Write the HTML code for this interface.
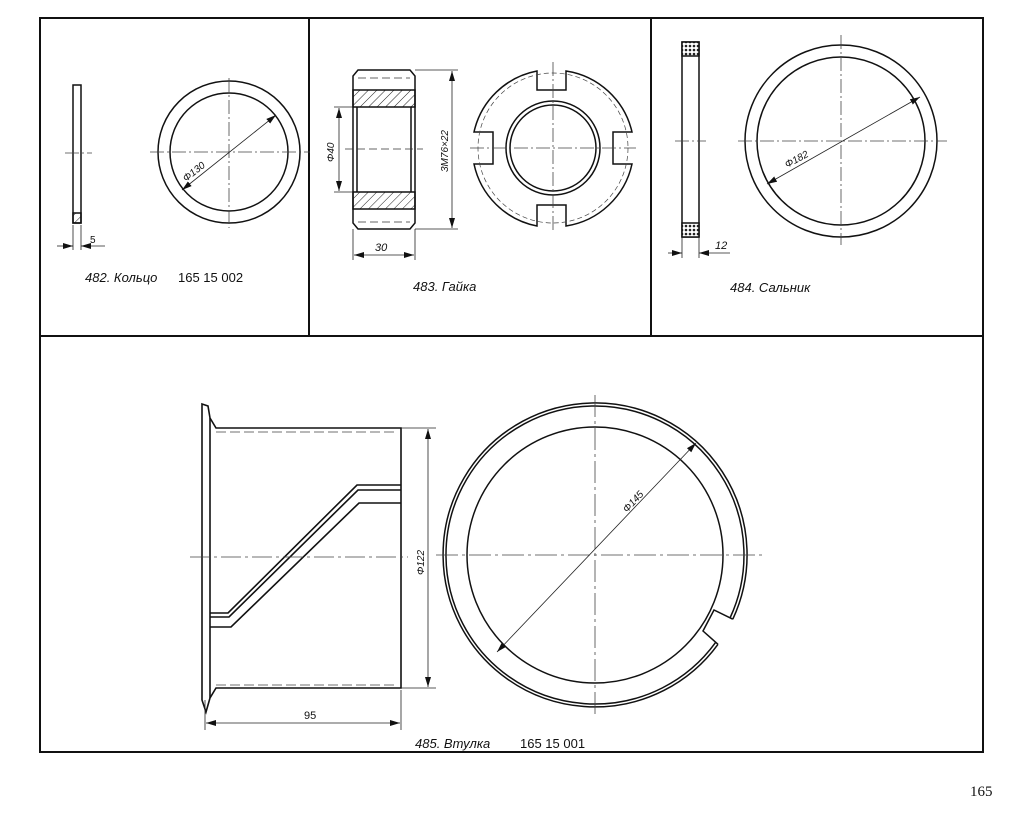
<!DOCTYPE html>
<html><head><meta charset="utf-8"><style>
html,body{margin:0;padding:0;background:#fff;}
svg{display:block}
text{font-family:"Liberation Sans","DejaVu Sans",sans-serif;fill:#111}
.it{font-style:italic}
</style></head><body>
<svg width="1024" height="829" viewBox="0 0 1024 829" xmlns="http://www.w3.org/2000/svg">
<defs>
<pattern id="h" width="6" height="6" patternUnits="userSpaceOnUse" patternTransform="rotate(45)">
<line x1="0" y1="0" x2="0" y2="6" stroke="#222" stroke-width="1"/></pattern>
<pattern id="x" width="4" height="4" patternUnits="userSpaceOnUse">
<rect width="4" height="4" fill="#fff"/><circle cx="2" cy="2" r="1.3" fill="#222"/></pattern>
<marker id="a" markerWidth="10" markerHeight="6" refX="10" refY="3" orient="auto-start-reverse" markerUnits="userSpaceOnUse"><path d="M0,0 L10,3 L0,6z" fill="#111"/></marker>
</defs>
<g fill="none" stroke="#111" stroke-width="2">
<rect x="40" y="18" width="943" height="734"/>
<line x1="40" y1="336" x2="983" y2="336"/>
<line x1="309" y1="18" x2="309" y2="336"/>
<line x1="651" y1="18" x2="651" y2="336"/>
</g>
<!-- Panel 482 -->
<g fill="none" stroke="#111" stroke-width="1.5">
<rect x="73" y="85" width="8" height="138"/>
<rect x="73" y="213" width="8" height="10" fill="url(#h)"/>
<circle cx="229" cy="152" r="71"/>
<circle cx="229" cy="152" r="59"/>
</g>
<g stroke="#444" stroke-width="0.8" stroke-dasharray="14,3,2,3" fill="none">
<line x1="150" y1="152" x2="310" y2="152"/><line x1="229" y1="78" x2="229" y2="228"/>
<line x1="65" y1="153" x2="92" y2="153"/>
</g>
<line x1="182" y1="190" x2="276" y2="115" stroke="#222" stroke-width="0.8" marker-start="url(#a)" marker-end="url(#a)"/>
<text x="0" y="0" font-size="10" class="it" transform="translate(186,182) rotate(-38)">Φ130</text>
<g stroke="#222" stroke-width="0.8"><line x1="73" y1="225" x2="73" y2="250"/><line x1="81" y1="225" x2="81" y2="250"/>
<line x1="57" y1="246" x2="73" y2="246" marker-end="url(#a)"/><line x1="105" y1="246" x2="81" y2="246" marker-end="url(#a)"/></g>
<text x="90" y="243" font-size="10">5</text>
<text x="85" y="282" font-size="13" class="it">482. Кольцо</text>
<text x="178" y="282" font-size="13">165 15 002</text>
<!-- Panel 483 -->
<g fill="none" stroke="#111" stroke-width="1.5">
<path d="M358,70 L410,70 L415,76 L415,223 L410,229 L358,229 L353,223 L353,76z"/>
<rect x="353" y="90" width="62" height="17" fill="url(#h)"/>
<rect x="353" y="192" width="62" height="17" fill="url(#h)"/>
<line x1="357" y1="107" x2="357" y2="192"/><line x1="411" y1="107" x2="411" y2="192"/>
</g>
<g stroke="#333" stroke-width="0.8" stroke-dasharray="8,4"><line x1="358" y1="78" x2="410" y2="78"/><line x1="358" y1="222" x2="410" y2="222"/>
<line x1="345" y1="149" x2="423" y2="149"/></g>
<g stroke="#222" stroke-width="0.8"><line x1="334" y1="107" x2="353" y2="107"/><line x1="334" y1="192" x2="353" y2="192"/>
<line x1="339" y1="150" x2="339" y2="108" marker-end="url(#a)"/><line x1="339" y1="150" x2="339" y2="191" marker-end="url(#a)"/>
<line x1="415" y1="70" x2="458" y2="70"/><line x1="415" y1="229" x2="458" y2="229"/>
<line x1="452" y1="150" x2="452" y2="71" marker-end="url(#a)"/><line x1="452" y1="150" x2="452" y2="228" marker-end="url(#a)"/>
<line x1="353" y1="229" x2="353" y2="260"/><line x1="415" y1="229" x2="415" y2="260"/>
<line x1="384" y1="255" x2="354" y2="255" marker-end="url(#a)"/><line x1="384" y1="255" x2="414" y2="255" marker-end="url(#a)"/></g>
<text font-size="10" class="it" transform="translate(334,162) rotate(-90)">Φ40</text>
<text font-size="10" class="it" transform="translate(448,172) rotate(-90)">3М76×22</text>
<text x="375" y="251" font-size="11" class="it">30</text>
<g fill="none" stroke="#111" stroke-width="1.5">
<path d="M537,71 L537,90 L566,90 L566,71 A80,80 0 0 1 632,132 L613,132 L613,164 L632,164 A80,80 0 0 1 566,226 L566,205 L537,205 L537,226 A80,80 0 0 1 474,164 L493,164 L493,132 L474,132 A80,80 0 0 1 537,71 Z"/>
<circle cx="553" cy="148" r="47"/><circle cx="553" cy="148" r="43"/>
</g>
<circle cx="553" cy="148" r="75" fill="none" stroke="#444" stroke-width="0.7" stroke-dasharray="5,3"/>
<g stroke="#444" stroke-width="0.8" stroke-dasharray="14,3,2,3"><line x1="470" y1="148" x2="636" y2="148"/><line x1="553" y1="62" x2="553" y2="232"/></g>
<text x="413" y="291" font-size="13" class="it">483. Гайка</text>
<!-- Panel 484 -->
<g fill="none" stroke="#111" stroke-width="1.5">
<rect x="682" y="42" width="17" height="195"/>
<rect x="682" y="42" width="17" height="14" fill="url(#x)"/>
<rect x="682" y="223" width="17" height="14" fill="url(#x)"/>
<circle cx="841" cy="141" r="96"/><circle cx="841" cy="141" r="84"/>
</g>
<g stroke="#444" stroke-width="0.8" stroke-dasharray="14,3,2,3"><line x1="738" y1="141" x2="947" y2="141"/><line x1="841" y1="35" x2="841" y2="245"/>
<line x1="675" y1="141" x2="706" y2="141"/></g>
<line x1="767" y1="184" x2="920" y2="97" stroke="#222" stroke-width="0.8" marker-start="url(#a)" marker-end="url(#a)"/>
<text font-size="10" class="it" transform="translate(787,168) rotate(-28)">Φ182</text>
<g stroke="#222" stroke-width="0.8"><line x1="682" y1="237" x2="682" y2="258"/><line x1="699" y1="237" x2="699" y2="258"/>
<line x1="668" y1="253" x2="682" y2="253" marker-end="url(#a)"/><line x1="730" y1="253" x2="699" y2="253" marker-end="url(#a)"/></g>
<text x="715" y="249" font-size="11" class="it">12</text>
<text x="730" y="292" font-size="13" class="it">484. Сальник</text>
<!-- Panel 485 left -->
<g fill="none" stroke="#111" stroke-width="1.6">
<path d="M202,404 L208,406 L210,418 L216,428 L401,428 L401,688 L216,688 L210,698 L206,712 L202,700 Z"/>
<line x1="210" y1="418" x2="210" y2="698"/>
<path d="M210,613 L228,613 L357,485 L401,485"/>
<path d="M210,617 L229,617 L358,490 L401,490"/>
<path d="M210,627 L231,627 L359,503 L401,503"/>
</g>
<g stroke="#444" stroke-width="0.8" stroke-dasharray="10,4"><line x1="216" y1="432" x2="398" y2="432"/><line x1="216" y1="685" x2="398" y2="685"/></g>
<g stroke="#444" stroke-width="0.8" stroke-dasharray="20,4,3,4"><line x1="190" y1="557" x2="408" y2="557"/></g>
<g stroke="#222" stroke-width="0.8"><line x1="401" y1="428" x2="436" y2="428"/><line x1="401" y1="688" x2="436" y2="688"/>
<line x1="428" y1="560" x2="428" y2="429" marker-end="url(#a)"/><line x1="428" y1="560" x2="428" y2="687" marker-end="url(#a)"/>
<line x1="205" y1="700" x2="205" y2="730"/><line x1="401" y1="690" x2="401" y2="730"/>
<line x1="300" y1="723" x2="206" y2="723" marker-end="url(#a)"/><line x1="300" y1="723" x2="400" y2="723" marker-end="url(#a)"/></g>
<text font-size="10" class="it" transform="translate(424,575) rotate(-90)">Φ122</text>
<text x="304" y="719" font-size="11">95</text>
<!-- Panel 485 right -->
<g fill="none" stroke="#111" stroke-width="1.5">
<path d="M718,644.3 A152,152 0 1 1 732.8,619.2"/>
<path d="M715.5,642.6 A149,149 0 1 1 730,618"/>
<circle cx="595" cy="555" r="128"/>
<path d="M732.8,619.2 L714,610 L703,631 L718,644.3"/>
</g>
<g stroke="#444" stroke-width="0.8" stroke-dasharray="22,4,3,4"><line x1="436" y1="555" x2="762" y2="555"/><line x1="595" y1="395" x2="595" y2="716"/></g>
<line x1="497" y1="652" x2="696" y2="443" stroke="#222" stroke-width="0.8" marker-start="url(#a)" marker-end="url(#a)"/>
<text font-size="10" class="it" transform="translate(627,513) rotate(-47)">Φ145</text>
<text x="415" y="748" font-size="13" class="it">485. Втулка</text>
<text x="520" y="748" font-size="13">165 15 001</text>
<text x="970" y="796" font-size="15" style="font-family:'Liberation Serif',serif">165</text>
</svg>
</body></html>
